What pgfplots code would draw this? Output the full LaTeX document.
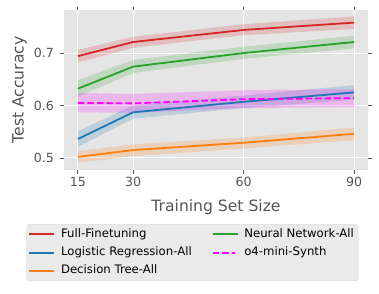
\documentclass[border=0pt]{standalone}
\usepackage{fontspec}
\setmainfont{DejaVu Sans}
\usepackage{pgfplots}
\pgfplotsset{compat=1.18}
\definecolor{bgc}{HTML}{E5E5E5}
\definecolor{txg}{HTML}{555555}
\definecolor{cred}{HTML}{D62728}
\definecolor{cblue}{HTML}{1F77B4}
\definecolor{corange}{HTML}{FF7F0E}
\definecolor{cgreen}{HTML}{2CA02C}
\definecolor{cmag}{HTML}{FF00FF}
\definecolor{legbg}{HTML}{EAEAEA}
\definecolor{legedge}{HTML}{D6D6D6}
\newcommand{\legrule}[1]{\node[inner sep=0pt, text height=1pt, text depth=1pt, anchor=west] at (0pt,0pt) {\textcolor{#1}{\rule[-1pt]{25pt}{2pt}}};}
\newcommand{\legdash}[1]{\node[inner sep=0pt, text height=1pt, text depth=1pt, anchor=west] at (0pt,0pt) {\textcolor{#1}{\rule[-1pt]{6.5pt}{2pt}\hspace{3pt}\rule[-1pt]{6.5pt}{2pt}\hspace{3pt}\rule[-1pt]{3pt}{2pt}\hspace{3pt}}};}
\begin{document}
\begin{tikzpicture}
\begin{axis}[
  scale only axis,
  width=304pt, height=160pt,
  xmin=11.25, xmax=93.75,
  ymin=0.477, ymax=0.782,
  xtick={15,30,60,90},
  ytick={0.5,0.6,0.7},
  yticklabel style={/pgf/number format/fixed,/pgf/number format/precision=1,/pgf/number format/fixed zerofill, xshift=-3pt},
  /pgf/number format/assume math mode=true,
  axis background/.style={fill=bgc},
  axis line style={draw=none},
  grid=major,
  major grid style={white, line width=1pt},
  tick align=outside,
  major tick style={draw=txg, line width=0.8pt},
  major tick length=3.5pt,
  ticklabel style={font=\fontsize{12.6}{14}\selectfont, text=txg},
  xlabel={Training Set Size},
  ylabel={Test Accuracy},
  label style={font=\fontsize{15.6}{18}\selectfont, text=txg},
  xlabel style={at={(axis description cs:0.5,0)}, anchor=base, yshift=-41pt},
  ylabel style={at={(axis description cs:-0.1464,0.5)}, anchor=center},
  legend style={at={(rel axis cs:0.4227,-0.34)}, anchor=north,
    fill=legbg, draw=legedge, rounded corners=2pt, inner sep=2.5pt,
    font=\fontsize{11.7}{14}\selectfont, text=black,
    nodes={inner sep=1.8pt, text height=8.5pt, text depth=2.5pt},
    row sep=3.6pt,
    /tikz/every odd column/.append style={column sep=5pt},
    /tikz/every even column/.append style={column sep=19pt}},
  legend columns=2,
  legend cell align=left,
]
% bands
\addplot[fill=cred, fill opacity=0.2, draw=none, forget plot] coordinates {(15,0.706) (30,0.731) (60,0.755) (90,0.770) (90,0.746) (60,0.734) (30,0.710) (15,0.682)} -- cycle;
\addplot[fill=cblue, fill opacity=0.2, draw=none, forget plot] coordinates {(15,0.551) (30,0.600) (60,0.619) (90,0.639) (90,0.611) (60,0.595) (30,0.575) (15,0.521)} -- cycle;
\addplot[fill=corange, fill opacity=0.2, draw=none, forget plot] coordinates {(15,0.513) (30,0.526) (60,0.539) (90,0.558) (90,0.534) (60,0.518) (30,0.503) (15,0.491)} -- cycle;
\addplot[fill=cgreen, fill opacity=0.2, draw=none, forget plot] coordinates {(15,0.648) (30,0.687) (60,0.712) (90,0.733) (90,0.709) (60,0.689) (30,0.662) (15,0.617)} -- cycle;
\addplot[fill=cmag, fill opacity=0.2, draw=none, forget plot] coordinates {(15,0.624) (30,0.622) (60,0.629) (90,0.631) (90,0.597) (60,0.595) (30,0.586) (15,0.587)} -- cycle;
% lines
\addplot[draw=cred, line width=1.8pt, forget plot] coordinates {(15,0.694) (30,0.721) (60,0.744) (90,0.758)};
\addplot[draw=cblue, line width=1.8pt, forget plot] coordinates {(15,0.536) (30,0.587) (60,0.607) (90,0.625)};
\addplot[draw=corange, line width=1.8pt, forget plot] coordinates {(15,0.502) (30,0.515) (60,0.529) (90,0.546)};
\addplot[draw=cgreen, line width=1.8pt, forget plot] coordinates {(15,0.632) (30,0.674) (60,0.700) (90,0.721)};
\addplot[draw=cmag, line width=1.8pt, dash pattern=on 6.5pt off 3pt, forget plot] coordinates {(15,0.605) (30,0.604) (60,0.612) (90,0.614)};
% legend (row-wise order)
\addlegendimage{legend image code/.code={\legrule{cred}}}
\addlegendentry{Full-Finetuning}
\addlegendimage{legend image code/.code={\legrule{cgreen}}}
\addlegendentry{Neural Network-All}
\addlegendimage{legend image code/.code={\legrule{cblue}}}
\addlegendentry{Logistic Regression-All}
\addlegendimage{legend image code/.code={\legdash{cmag}}}
\addlegendentry{o4-mini-Synth}
\addlegendimage{legend image code/.code={\legrule{corange}}}
\addlegendentry{Decision Tree-All}
\end{axis}
\pgfresetboundingbox
\path[use as bounding box] (-64pt,-123pt) rectangle (315pt,170pt);
\end{tikzpicture}
\end{document}
